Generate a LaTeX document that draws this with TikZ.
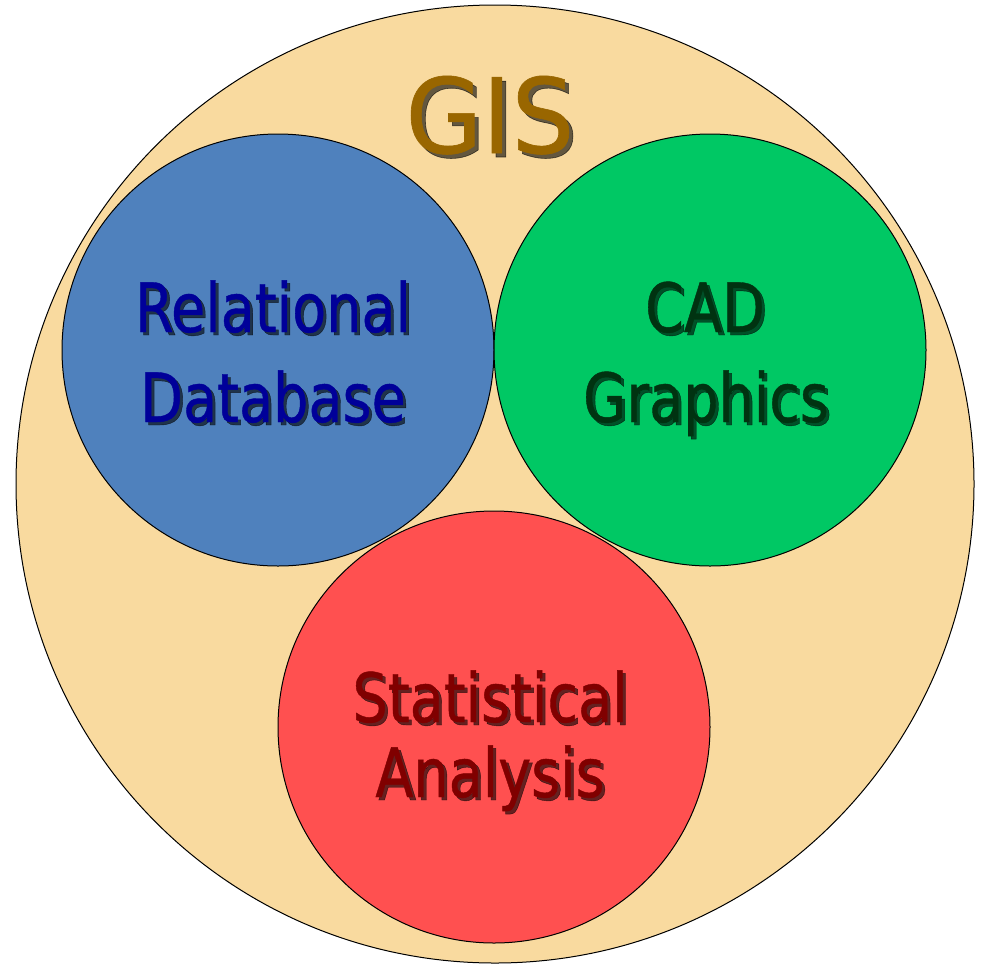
\documentclass[tikz,border=0pt]{standalone}
\usepackage{fontspec}
\setmainfont{DejaVu Sans Condensed}
\newfontfamily\labelfont[FakeStretch=0.91, FakeBold=0.6]{DejaVu Sans Condensed}
\newfontfamily\titlefont[FakeStretch=1.06, FakeBold=0.6]{DejaVu Sans Condensed}
\usepackage{tikz}
\usetikzlibrary{calc}

\definecolor{gisback}{HTML}{F9DA9F}
\definecolor{gistext}{HTML}{996600}
\definecolor{dbfill}{HTML}{4F81BD}
\definecolor{dbtext}{HTML}{000099}
\definecolor{cadfill}{HTML}{00C864}
\definecolor{cadtext}{HTML}{003311}
\definecolor{statfill}{HTML}{FF5050}
\definecolor{stattext}{HTML}{800000}

\tikzset{
	part/.style={circle, draw=black, line width=1pt, minimum size=432pt, inner sep=0pt},
	word/.style={anchor=base, inner sep=0pt, font=\labelfont\fontsize{68}{68}\selectfont},
	shadow/.style={word, text=black, opacity=0.6}
}

\begin{document}
\begin{tikzpicture}[x=1pt, y=-1pt]
					\useasboundingbox (0,0) rectangle (982,967);

					\begin{scope}
						\node[circle, draw=black, line width=1pt, fill=gisback, minimum size=958pt, inner sep=0pt] (gis) at (495,484) {};
					\end{scope}

					\begin{scope}
						\node[part, fill=dbfill] (db) at (278,350) {};
						\node[part, fill=cadfill] (cad) at (710,350) {};
						\node[part, fill=statfill] (stat) at (494,727) {};
					\end{scope}

					% labels with shadow
					\begin{scope}
						\node[shadow, font=\titlefont\fontsize{104}{104}\selectfont] (gisS) at (494,157) {GIS};
						\node[word, text=gistext, font=\titlefont\fontsize{104}{104}\selectfont] (gisL) at (490,153) {GIS};

						\foreach \t/\x/\y/\c [count=\i] in {Relational/273/332/dbtext, Database/273/422/dbtext,
							CAD/705/332/cadtext, Graphics/706/422/cadtext,
							Statistical/490/722/stattext, Analysis/490/797/stattext}
						{
							\node[shadow] (s\i) at (\x+3,\y+3) {\t};
							\node[word, text=\c] (w\i) at (\x,\y) {\t};
						}
					\end{scope}
				\end{tikzpicture}
\end{document}
